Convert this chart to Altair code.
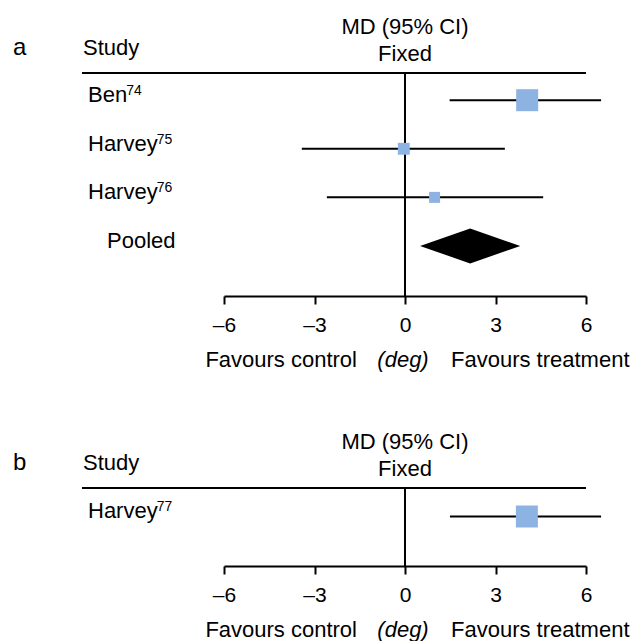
import altair as alt
import pandas as pd

# ---------------- data ----------------
# Panel a
names_a = ["Ben", "Harvey", "Harvey"]
refs_a = ["74", "75", "76"]
md_a = [4.05, -0.04, 0.98]
lo_a = [1.48, -3.42, -2.59]
hi_a = [6.50, 3.31, 4.58]
weight_a = [49.0, 26.5, 24.5]
pooled_a = [0.50, 2.16, 3.82]  # lower, estimate, upper

# Panel b
names_b = ["Harvey"]
refs_b = ["77"]
md_b = [4.04]
lo_b = [1.49]
hi_b = [6.50]
weight_b = [100.0]

tick_values = [-6, -3, 0, 3, 6]

# ---------------- style ----------------
FONT = "Liberation Sans"
FS = 22
SUP_FS = 14
SQUARE_COLOR = "#8db3e2"
MAX_SQUARE_AREA = 484
W = 362
LABEL_X = -136
one = pd.DataFrame({"k": [0]})

# Arial / Liberation Sans advance widths (em) for label letters
ADV = {"B": 0.667, "H": 0.722, "a": 0.556, "e": 0.556, "n": 0.556,
       "r": 0.333, "v": 0.5, "y": 0.5}


def text_width(s, size):
    return sum(ADV.get(c, 0.556) for c in s) * size


def txt(text, x, y, align="left", size=FS, style="normal", baseline="alphabetic"):
    return alt.Chart(one).mark_text(
        text=text, align=align, baseline=baseline, font=FONT, fontSize=size,
        fontStyle=style, color="black"
    ).encode(x=x, y=y)


def panel(letter, names, refs, md, lo, hi, weight, pooled, height, ydom):
    df = pd.DataFrame({
        "label": names,
        "ref": refs,
        "row": list(range(1, len(names) + 1)),
        "md": md, "lo": lo, "hi": hi, "w": weight,
    })
    df["supx"] = [LABEL_X + text_width(n, FS) - 1 for n in names]
    xscale = alt.Scale(domain=[-6, 6], nice=False, zero=False)
    yscale = alt.Scale(domain=ydom, reverse=True, nice=False, zero=False)
    axis = alt.Axis(
        values=tick_values,
        labelExpr="datum.value < 0 ? '\u2013' + abs(datum.value) : '' + datum.value",
        domainColor="black", domainWidth=2, tickColor="black", tickWidth=2,
        tickSize=8, labelFontSize=21, labelColor="black", labelFont=FONT,
        labelBaseline="alphabetic", labelPadding=27, grid=False, title=None,
        labelFlush=False, labelOverlap=False,
    )
    base = alt.Chart(df)
    ci = base.mark_rule(color="black", strokeWidth=2).encode(
        x=alt.X("lo:Q", scale=xscale, axis=axis), x2="hi:Q",
        y=alt.Y("row:Q", scale=yscale, axis=None),
    )
    zero_line = alt.Chart(one).mark_rule(color="black", strokeWidth=2).encode(
        x=alt.datum(0), y=alt.value(0), y2=alt.value(height)
    )
    squares = base.mark_point(shape="square", filled=True, opacity=1,
                              color=SQUARE_COLOR, strokeWidth=0).encode(
        x="md:Q", y="row:Q",
        size=alt.Size("w:Q", scale=alt.Scale(type="pow", exponent=2,
                                             domain=[0, max(weight)],
                                             range=[0, MAX_SQUARE_AREA]),
                      legend=None),
    )
    labels = base.mark_text(align="left", baseline="alphabetic", dy=2,
                            font=FONT, fontSize=FS, color="black").encode(
        x=alt.value(LABEL_X), y="row:Q", text="label:N"
    )
    sups = base.mark_text(align="left", baseline="alphabetic", dy=-5,
                          font=FONT, fontSize=SUP_FS, color="black").encode(
        x=alt.X("supx:Q", scale=None), y="row:Q", text="ref:N"
    )
    header_line = alt.Chart(one).mark_rule(color="black", strokeWidth=2).encode(
        x=alt.value(-142), x2=alt.value(W), y=alt.value(0)
    )
    layers = [
        zero_line, ci, squares, labels, sups, header_line,
        txt(letter, alt.value(-211), alt.value(-18), size=24),
        txt("Study", alt.value(-141), alt.value(-18)),
        txt("MD (95% CI)", alt.datum(0), alt.value(-39), align="center"),
        txt("Fixed", alt.datum(0), alt.value(-12.5), align="center"),
        txt("Favours control", alt.value(133), alt.value(height + 71), align="right"),
        txt("(deg)", alt.value(179), alt.value(height + 71), align="center", style="italic"),
        txt("Favours treatment", alt.value(227), alt.value(height + 71)),
    ]
    if pooled is not None:
        prow = len(names) + 1
        dd = pd.DataFrame({
            "x": pooled,
            "y": [prow, prow - 0.36, prow],
            "y2": [prow, prow + 0.36, prow],
        })
        diamond = alt.Chart(dd).mark_area(color="black", orient="vertical").encode(
            x="x:Q", y="y:Q", y2="y2:Q"
        )
        plab = alt.Chart(pd.DataFrame({"row": [prow], "t": ["Pooled"]})).mark_text(
            align="left", baseline="alphabetic", dy=2, font=FONT, fontSize=FS,
            color="black").encode(x=alt.value(-117), y="row:Q", text="t:N")
        layers += [diamond, plab]
    return alt.layer(*layers).properties(width=W, height=height)


pa = panel("a", names_a, refs_a, md_a, lo_a, hi_a, weight_a, pooled_a, 223, [0.44, 5.03])
pb = panel("b", names_b, refs_b, md_b, lo_b, hi_b, weight_b, None, 78, [0.414, 2.018])

chart = alt.vconcat(pa, pb, spacing=60).resolve_scale(
    x="independent", y="independent", size="independent"
).properties(
    padding={"left": 5, "top": 8, "right": 0, "bottom": 0},
    background="white",
).configure_view(stroke=None, strokeWidth=0).configure_axis(grid=False)

chart.save("out.html", embed_options={"renderer": "svg", "actions": False})
